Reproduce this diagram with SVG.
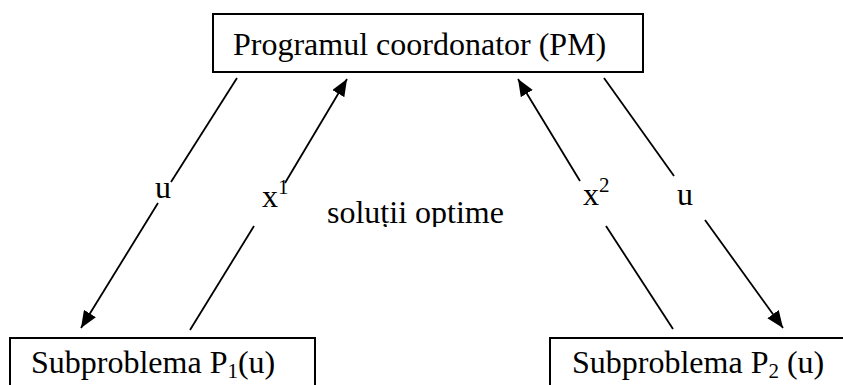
<svg xmlns="http://www.w3.org/2000/svg" width="843" height="385" viewBox="0 0 843 385">
<style>
text{font-family:"Liberation Serif","Times New Roman",serif;font-size:32px;fill:#000}
.box{fill:#fff;stroke:#000;stroke-width:2}
.ln{stroke:#000;stroke-width:1.8;fill:none}
.sub{font-size:21px}
</style>
<defs>
<marker id="ah" markerUnits="userSpaceOnUse" markerWidth="18" markerHeight="14" refX="17" refY="7" orient="auto">
<path d="M0,0 L17,7 L0,14 z" fill="#000"/>
</marker>
<clipPath id="clipSol"><rect x="0" y="0" width="843" height="227"/></clipPath>
</defs>
<rect width="843" height="385" fill="#fff"/>
<g id="pm">
<rect class="box" x="213" y="14" width="430" height="58"/>
<text x="233" y="55">Programul coordonator (PM)</text>
</g>
<g id="p1">
<rect class="box" x="10" y="338" width="305" height="60"/>
<text x="31" y="373">Subproblema P<tspan class="sub" dy="5">1</tspan><tspan dy="-5">(u)</tspan></text>
</g>
<g id="p2">
<rect class="box" x="550" y="338" width="310" height="60"/>
<text x="572" y="373">Subproblema P<tspan class="sub" dy="5">2</tspan><tspan dy="-5"> (u)</tspan></text>
</g>
<g id="connectors">
<line class="ln" x1="237" y1="78" x2="171" y2="182"/>
<line class="ln" x1="158" y1="203" x2="81" y2="328" marker-end="url(#ah)"/>
<line class="ln" x1="190" y1="330" x2="254" y2="226"/>
<line class="ln" x1="285" y1="183" x2="347" y2="79" marker-end="url(#ah)"/>
<line class="ln" x1="580" y1="181" x2="518" y2="79" marker-end="url(#ah)"/>
<line class="ln" x1="606" y1="226" x2="673" y2="329"/>
<line class="ln" x1="604" y1="78" x2="674" y2="176"/>
<line class="ln" x1="705" y1="220" x2="783" y2="328" marker-end="url(#ah)"/>
</g>
<g id="labels">
<text x="155" y="198">u</text>
<text x="262" y="207">x<tspan class="sub" dy="-13">1</tspan></text>
<text x="583" y="205">x<tspan class="sub" dy="-13">2</tspan></text>
<text x="677" y="205">u</text>
<text x="327" y="223" clip-path="url(#clipSol)">soluții optime</text>
</g>
</svg>
